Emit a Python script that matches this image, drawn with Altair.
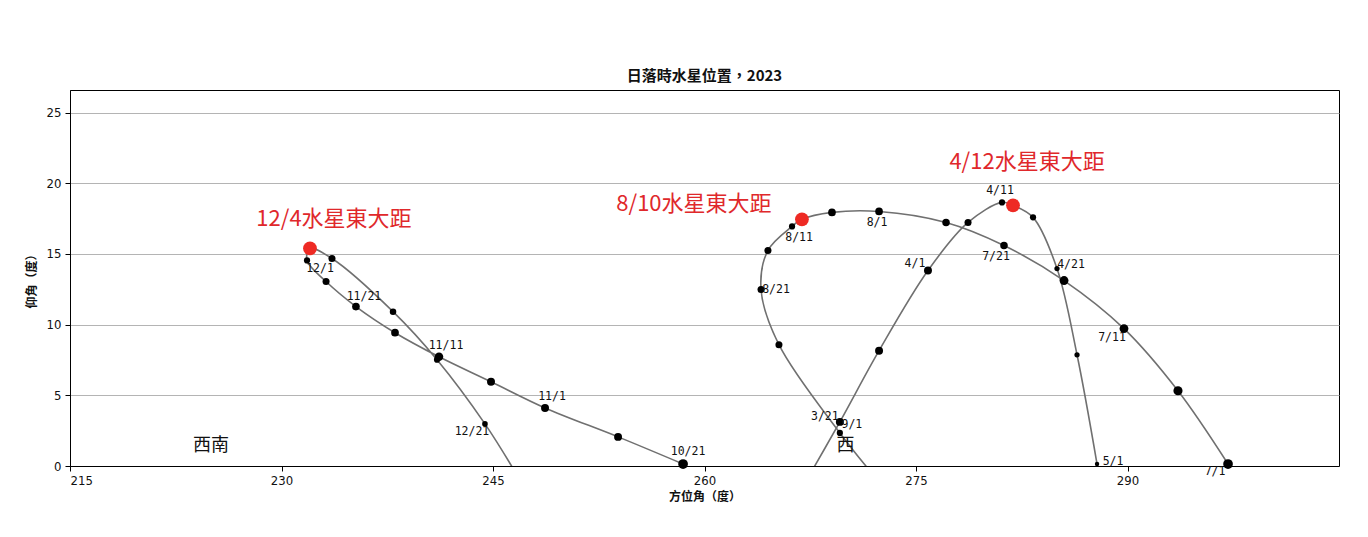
import altair as alt
import pandas as pd

# Mercury's position above the western horizon at sunset, 2023 (5-day steps).
# Each evening apparition is one curve; the greatest-elongation date sits in its sequence.
spring_dates = ["3/16", "3/21", "3/26", "4/1", "4/6", "4/11", "4/12", "4/16", "4/21", "4/26", "5/1"]
spring_az = [266.84, 269.60, 272.38, 275.85, 278.69, 281.10, 281.88, 283.30, 285.00, 286.42, 287.84]
spring_alt = [-1.70, 3.12, 8.16, 13.83, 17.23, 18.65, 18.44, 17.59, 13.97, 7.87, 0.14]
spring_mag = [0.5, 0.7, 0.7, 0.7, 1.7, 2.5, 2.5, 2.5, 3.3, 3.3, 3.9]

summer_dates = ["7/1", "7/6", "7/11", "7/16", "7/21", "7/26", "8/1", "8/6", "8/10", "8/11",
                "8/16", "8/21", "8/26", "9/1", "9/6"]
summer_az = [297.13, 293.58, 289.75, 285.50, 281.24, 277.13, 272.38, 269.04, 266.91, 266.21,
             264.50, 264.01, 265.28, 269.60, 272.45]
summer_alt = [0.14, 5.32, 9.72, 13.12, 15.60, 17.23, 18.01, 17.94, 17.45, 16.95,
              15.25, 12.48, 8.58, 2.34, -1.21]
summer_mag = [-1.6, -0.8, -0.4, -0.4, 1.2, 1.2, 1.0, 1.0, 2.5, 2.5, 1.7, 1.7, 1.7, 2.5, 3.0]

winter_dates = ["10/21", "10/26", "11/1", "11/6", "11/11", "11/16", "11/21", "11/26", "12/1",
                "12/4", "12/6", "12/11", "12/16", "12/21", "12/26"]
winter_az = [258.48, 253.87, 248.69, 244.86, 241.17, 238.05, 235.28, 233.16, 231.81,
             232.02, 233.58, 237.91, 241.03, 244.43, 246.91]
winter_alt = [0.14, 2.06, 4.11, 5.96, 7.73, 9.43, 11.28, 13.05, 14.54,
              15.39, 14.68, 10.92, 7.52, 2.98, -0.99]
winter_mag = [-1.6, 0.7, 0.7, 0.7, 0.0, 1.0, 1.0, 1.7, 2.5, 2.5, 1.7, 2.2, 2.5, 3.0, 3.5]

# Greatest eastern elongations
event_dates = ["12/4", "8/10", "4/12"]
event_text = ["12/4水星東大距", "8/10水星東大距", "4/12水星東大距"]

# Compass directions along the horizon
dir_text = ["西南", "西"]
dir_az = [225.0, 270.0]
dir_alt = [1.45, 1.45]

x_ticks = [215, 230, 245, 260, 275, 290]
y_ticks = [0, 5, 10, 15, 20, 25]

rows = []
for seg, (ds, azs, alts, mags) in enumerate([
    (spring_dates, spring_az, spring_alt, spring_mag),
    (summer_dates, summer_az, summer_alt, summer_mag),
    (winter_dates, winter_az, winter_alt, winter_mag),
]):
    for i, (d, a, h, m) in enumerate(zip(ds, azs, alts, mags)):
        rows.append({"seg": seg, "seq": i, "date": d, "az": a, "alt": h, "mag": m,
                     "event": d in event_dates})
path = pd.DataFrame(rows)

ev = path[path["event"]].set_index("date").loc[event_dates].reset_index()
ev["text"] = event_text

dirs = pd.DataFrame({"text": dir_text, "az": dir_az, "alt": dir_alt})

# where each date label sits relative to its dot (pixels)
label_nudge = {
    "12/1": (13, 9), "11/21": (8, -10), "11/11": (7, -11), "12/21": (-13, 8),
    "11/1": (7, -11), "10/21": (5, -12), "8/11": (7, 12), "8/1": (-2, 12),
    "8/21": (15, 0), "4/1": (-13, -7), "3/21": (-15, -5), "9/1": (12, -8),
    "4/11": (-2, -11), "7/21": (-8, 12), "4/21": (14, -4), "7/11": (-12, 9),
    "5/1": (16, -2), "7/1": (-13, 8),
}
# where each elongation caption sits relative to its red dot (pixels)
event_nudge = {"12/4": (24, -29), "8/10": (-108, -15), "4/12": (14, -43)}

tick_font = "Liberation Sans Narrow, DejaVu Sans Condensed, sans-serif"
cjk_font = "Noto Sans CJK TC"

x_enc = alt.X("az:Q",
              scale=alt.Scale(domain=[215, 305], nice=False, zero=False),
              axis=alt.Axis(values=x_ticks, title="方位角（度）", grid=False))
y_enc = alt.Y("alt:Q",
              scale=alt.Scale(domain=[0, 26.6], nice=False, zero=False),
              axis=alt.Axis(values=y_ticks, title="仰角（度）", grid=True))

base = alt.Chart(path)

lines = base.mark_line(color="#707070", strokeWidth=1.6, interpolate="catmull-rom",
                       clip=True).encode(
    x=x_enc, y=y_enc, detail="seg:N", order="seq:Q")

dots = base.transform_filter(
    "!datum.event && datum.alt >= 0"
).mark_circle(color="black", opacity=1).encode(
    x=x_enc, y=y_enc,
    size=alt.Size("mag:Q", scale=alt.Scale(domain=[-2, 4], range=[100, 18]), legend=None))

red = alt.Chart(ev).mark_circle(color="#ee2a24", opacity=1, size=190).encode(x=x_enc, y=y_enc)

layers = [lines, dots, red]

for d, (dx, dy) in label_nudge.items():
    layers.append(
        base.transform_filter(alt.datum.date == d).mark_text(
            dx=dx, dy=dy, font="DejaVu Sans Mono", fontSize=11.5, color="#111111",
            align="center", baseline="middle"
        ).encode(x=x_enc, y=y_enc, text="date:N"))

for d, (dx, dy) in event_nudge.items():
    layers.append(
        alt.Chart(ev).transform_filter(alt.datum.date == d).mark_text(
            dx=dx, dy=dy, font=cjk_font, fontSize=22, color="#e0282b",
            align="center", baseline="middle"
        ).encode(x=x_enc, y=y_enc, text="text:N"))

layers.append(
    alt.Chart(dirs).mark_text(font=cjk_font, fontSize=18, color="#111111",
                              align="center", baseline="middle").encode(
        x=x_enc, y=y_enc, text="text:N"))

chart = alt.layer(*layers).properties(
    width=1269, height=376,
    title=alt.Title("日落時水星位置，2023", font=cjk_font, fontSize=15, fontWeight="bold",
                    color="#111111", offset=6),
    autosize=alt.AutoSizeParams(type="none"),
    padding={"left": 70, "top": 90, "right": 29, "bottom": 71},
    background="white",
).configure_view(
    stroke="black", strokeWidth=1
).configure_axis(
    domainColor="black", tickColor="black", tickSize=5,
    labelFont=tick_font, labelFontSize=13, labelColor="#111111",
    titleFont=cjk_font, titleFontSize=12, titleFontWeight="bold", titleColor="#111111",
    gridColor="#b4b4b4", gridWidth=1,
).configure_axisX(
    labelPadding=3, titlePadding=4
).configure_axisY(
    labelPadding=4, titlePadding=8
)

chart.save("out.html", embed_options={"renderer": "svg", "actions": False})
